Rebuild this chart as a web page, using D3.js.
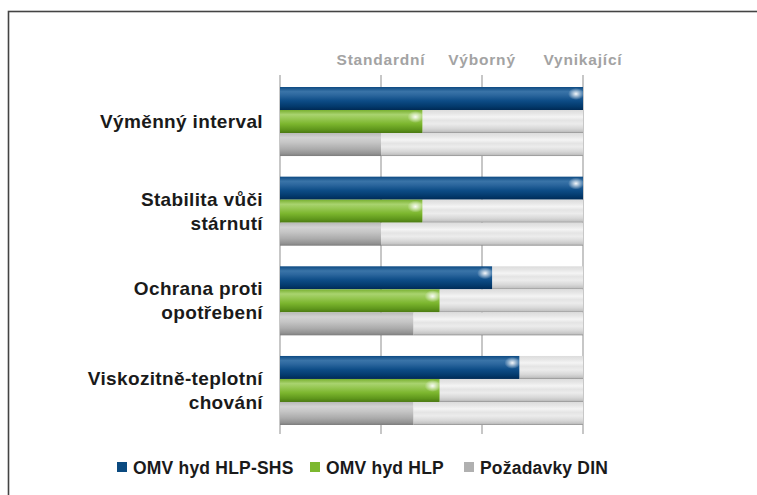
<!DOCTYPE html>
<html>
<head>
<meta charset="utf-8">
<script src="https://cdn.jsdelivr.net/npm/d3@7"></script>
<style>
  body { margin: 0; background: #fff; }
  text { font-family: "Liberation Sans", Arial, sans-serif; font-weight: bold; }
</style>
</head>
<body>
<svg id="chart" width="757" height="495"></svg>
<script>
// data
const categories = [
  ["Výměnný interval"],
  ["Stabilita vůči", "stárnutí"],
  ["Ochrana proti", "opotřebení"],
  ["Viskozitně-teplotní", "chování"]
];
const seriesNames = ["OMV hyd HLP-SHS", "OMV hyd HLP", "Požadavky DIN"];
const hlpShs = [3.0, 3.0, 2.1, 2.37];
const hlp = [1.41, 1.41, 1.58, 1.58];
const din = [1.0, 1.0, 1.32, 1.32];
const tickLabels = ["Standardní", "Výborný", "Vynikající"];
const tickValues = [1, 2, 3];

const series = [hlpShs, hlp, din];
const swatch = ["#0b4a80", "#7cb82f", "#b0b0b0"];

const svg = d3.select("#chart");
const defs = svg.append("defs");

// vertical gradients for the glossy bars
function addGrad(id, stops) {
  const g = defs.append("linearGradient").attr("id", id)
    .attr("x1", 0).attr("y1", 0).attr("x2", 0).attr("y2", 1);
  stops.forEach(s => g.append("stop").attr("offset", s[0]).attr("stop-color", s[1]));
}
addGrad("g0", [[0, "#0d4a82"], [0.2, "#3a74a8"], [0.35, "#2c679e"], [0.6, "#0d4c86"], [0.85, "#03396b"], [1, "#002a55"]]);
addGrad("g1", [[0, "#78b030"], [0.2, "#a9d36f"], [0.35, "#99c957"], [0.6, "#7cb62e"], [0.85, "#5f961c"], [1, "#4a7812"]]);
addGrad("g2", [[0, "#b8b8b8"], [0.2, "#d2d2d2"], [0.4, "#c6c6c6"], [0.7, "#ababab"], [0.9, "#929292"], [1, "#7c7c7c"]]);
addGrad("track", [[0, "#dcdcdc"], [0.15, "#e6e6e6"], [0.3, "#f4f4f4"], [0.45, "#e4e4e4"], [0.6, "#ececec"], [0.8, "#d8d8d8"], [0.93, "#c4c4c4"], [1, "#8e8e8e"]]);
const glow = defs.append("radialGradient").attr("id", "glow");
glow.append("stop").attr("offset", 0).attr("stop-color", "#fff").attr("stop-opacity", 0.95);
glow.append("stop").attr("offset", 0.45).attr("stop-color", "#fff").attr("stop-opacity", 0.5);
glow.append("stop").attr("offset", 1).attr("stop-color", "#fff").attr("stop-opacity", 0);

// frame (top and left edges only show)
svg.append("rect")
  .attr("x", 8.5).attr("y", 11.5).attr("width", 800).attr("height", 600)
  .attr("fill", "none").attr("stroke", "#444").attr("stroke-width", 1.6);

const x = d3.scaleLinear().domain([0, 3]).range([280, 583]);
const y = d3.scaleBand().domain(d3.range(categories.length)).range([87, 425]).paddingInner(0.23).paddingOuter(0);
const ySub = d3.scaleBand().domain(d3.range(3)).range([0, y.bandwidth()]);

// gridlines
const gridTop = 75, gridBottom = 434;
svg.append("g").selectAll("line")
  .data([0, 1, 2, 3])
  .join("line")
  .attr("x1", d => x(d)).attr("x2", d => x(d))
  .attr("y1", gridTop).attr("y2", gridBottom)
  .attr("stroke", "#b4b4b4").attr("stroke-width", 1.5);

// column labels
svg.append("g").selectAll("text")
  .data(tickValues)
  .join("text")
  .attr("x", d => x(d))
  .attr("y", 65)
  .attr("text-anchor", "middle")
  .attr("fill", "#a3a3a3")
  .attr("font-size", 15.5)
  .attr("letter-spacing", 0.8)
  .text((d, i) => tickLabels[i]);

// bars
const groups = svg.append("g").selectAll("g")
  .data(categories)
  .join("g")
  .attr("transform", (d, i) => `translate(0,${y(i)})`);

groups.each(function(cat, ci) {
  const g = d3.select(this);
  series.forEach((vals, si) => {
    const v = vals[ci];
    const by = ySub(si), bh = ySub.bandwidth();
    // background track up to max
    if (v < 3) {
      g.append("rect")
        .attr("x", x(v)).attr("y", by)
        .attr("width", x(3) - x(v)).attr("height", bh)
        .attr("fill", "url(#track)");
    }
    g.append("rect")
      .attr("x", x(0)).attr("y", by)
      .attr("width", x(v) - x(0)).attr("height", bh)
      .attr("fill", `url(#g${si})`);
    if (si < 2) {
      g.append("ellipse")
        .attr("cx", x(v) - 7).attr("cy", by + bh * 0.3)
        .attr("rx", 8).attr("ry", 6)
        .attr("fill", "url(#glow)");
    }
  });
  // gridlines over the track
  g.selectAll("line.over")
    .data([1, 2])
    .join("line")
    .attr("x1", d => x(d)).attr("x2", d => x(d))
    .attr("y1", 0).attr("y2", y.bandwidth())
    .attr("stroke", "#888").attr("stroke-opacity", 0.45)
    .attr("stroke-width", 1)
    .lower();
});

// category labels
groups.each(function(cat) {
  const g = d3.select(this);
  const cy = y.bandwidth() / 2;
  const lh = 24;
  const t = g.append("text")
    .attr("text-anchor", "end")
    .attr("font-size", 19)
    .attr("letter-spacing", 0.35)
    .attr("fill", "#1a1a1a");
  cat.forEach((line, li) => {
    t.append("tspan")
      .attr("x", 263)
      .attr("y", cy + (li - (cat.length - 1) / 2) * lh + 6.5)
      .text(line);
  });
});

// legend
const legendX = [117, 310, 464];
const legend = svg.append("g").selectAll("g")
  .data(seriesNames)
  .join("g")
  .attr("transform", (d, i) => `translate(${legendX[i]},467)`);
legend.append("rect")
  .attr("x", 0).attr("y", -5).attr("width", 10).attr("height", 10)
  .attr("fill", (d, i) => swatch[i]);
legend.append("text")
  .attr("x", 16).attr("y", 6.5)
  .attr("font-size", 17.5)
  .attr("letter-spacing", 0.2)
  .attr("fill", "#1a1a1a")
  .text(d => d);
</script>
</body>
</html>
